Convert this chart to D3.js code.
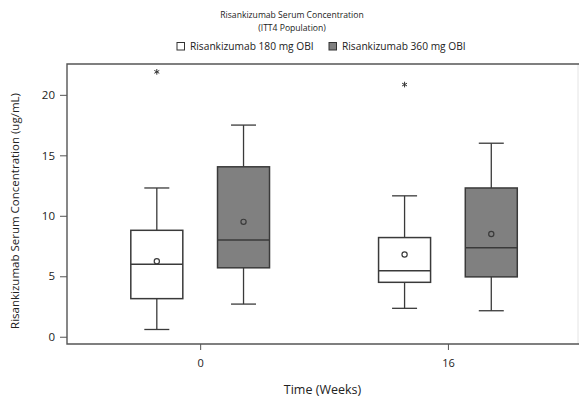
<!DOCTYPE html>
<html>
<head>
<meta charset="utf-8">
<script src="https://cdn.jsdelivr.net/npm/d3@7"></script>
<style>
  body { margin: 0; background: #fff; }
  text { font-family: "Open Sans", sans-serif; fill: #222; }
</style>
</head>
<body>
<div id="chart"></div>
<script>
const weeks = [0, 16];
const groups = ['Risankizumab 180 mg OBI', 'Risankizumab 360 mg OBI'];
const yTicks = [0, 5, 10, 15, 20];

// box stats per week, index order matches groups
const lowWhisker = [[0.6, 2.7], [2.35, 2.15]];
const q1 = [[3.15, 5.7], [4.5, 4.95]];
const median = [[6.0, 8.0], [5.45, 7.35]];
const q3 = [[8.8, 14.05], [8.2, 12.3]];
const highWhisker = [[12.3, 17.5], [11.65, 16.0]];
const means = [[6.25, 9.5], [6.8, 8.5]];
const outliers = [[[21.9], []], [[20.85], []]];

const fills = ['#ffffff', '#808080'];

const W = 579, H = 398;
const margin = { top: 64, right: 1, bottom: 54, left: 67 };
const width = W - margin.left - margin.right;
const height = H - margin.top - margin.bottom;

const svg = d3.select('#chart')
  .append('svg')
  .attr('width', W)
  .attr('height', H);

const g = svg.append('g')
  .attr('transform', `translate(${margin.left},${margin.top})`);

const x = d3.scaleLinear().domain([-8.6, 24.4]).range([0, width]);
const y = d3.scaleLinear().domain([-0.6, 22.55]).range([height, 0]);

const offset = 2.8;   // weeks each box sits off the tick
const boxW = 52;
const capW = 25;

// frame: right side is barely visible in the original
g.append('line')
  .attr('x1', width).attr('x2', width).attr('y1', 0).attr('y2', height)
  .attr('stroke', '#e4e4e4');
g.append('path')
  .attr('d', `M${width + 2},0H0V${height}H${width + 2}`)
  .attr('fill', 'none')
  .attr('stroke', '#555')
  .attr('stroke-width', 1.4);

const yAxis = g.append('g')
  .call(d3.axisLeft(y).tickValues(yTicks).tickSize(7).tickPadding(5));
yAxis.select('.domain').remove();
yAxis.selectAll('line').attr('stroke', '#555');
yAxis.selectAll('text').style('font-size', '11.5px').attr('fill', '#222');

const xAxis = g.append('g')
  .attr('transform', `translate(0,${height})`)
  .call(d3.axisBottom(x).tickValues(weeks).tickFormat(d3.format('d')).tickSize(6).tickPadding(9));
xAxis.select('.domain').remove();
xAxis.selectAll('line').attr('stroke', '#555');
xAxis.selectAll('text').style('font-size', '11px').attr('fill', '#222');

weeks.forEach((wk, wi) => {
  groups.forEach((grp, gi) => {
    const cx = x(wk + (gi === 0 ? -offset : offset));
    const stroke = '#3a3a3a';

    // whiskers
    g.append('line')
      .attr('x1', cx).attr('x2', cx)
      .attr('y1', y(highWhisker[wi][gi])).attr('y2', y(q3[wi][gi]))
      .attr('stroke', stroke).attr('stroke-width', 1.3);
    g.append('line')
      .attr('x1', cx).attr('x2', cx)
      .attr('y1', y(q1[wi][gi])).attr('y2', y(lowWhisker[wi][gi]))
      .attr('stroke', stroke).attr('stroke-width', 1.3);
    [highWhisker[wi][gi], lowWhisker[wi][gi]].forEach(v => {
      g.append('line')
        .attr('x1', cx - capW / 2).attr('x2', cx + capW / 2)
        .attr('y1', y(v)).attr('y2', y(v))
        .attr('stroke', stroke).attr('stroke-width', 1.3);
    });

    // box
    g.append('rect')
      .attr('x', cx - boxW / 2)
      .attr('y', y(q3[wi][gi]))
      .attr('width', boxW)
      .attr('height', y(q1[wi][gi]) - y(q3[wi][gi]))
      .attr('fill', fills[gi])
      .attr('stroke', stroke)
      .attr('stroke-width', 1.5);

    g.append('line')
      .attr('x1', cx - boxW / 2).attr('x2', cx + boxW / 2)
      .attr('y1', y(median[wi][gi])).attr('y2', y(median[wi][gi]))
      .attr('stroke', stroke).attr('stroke-width', 1.5);

    g.append('circle')
      .attr('cx', cx).attr('cy', y(means[wi][gi]))
      .attr('r', 2.6)
      .attr('fill', fills[gi])
      .attr('stroke', stroke)
      .attr('stroke-width', 1.2);

    outliers[wi][gi].forEach(v => {
      g.append('path')
        .attr('transform', `translate(${cx},${y(v)})`)
        .attr('d', d3.symbol(d3.symbolAsterisk, 22)())
        .attr('fill', 'none')
        .attr('stroke', '#333')
        .attr('stroke-width', 1);
    });
  });
});

// title
svg.append('text')
  .attr('x', 292).attr('y', 18)
  .attr('text-anchor', 'middle')
  .style('font-size', '8.6px')
  .text('Risankizumab Serum Concentration');
svg.append('text')
  .attr('x', 292).attr('y', 31)
  .attr('text-anchor', 'middle')
  .style('font-size', '8.6px')
  .text('(ITT4 Population)');

// legend
const legendX = [177, 329];
groups.forEach((grp, gi) => {
  svg.append('rect')
    .attr('x', legendX[gi]).attr('y', 42.5)
    .attr('width', 7.5).attr('height', 7.5)
    .attr('fill', fills[gi])
    .attr('stroke', '#333')
    .attr('stroke-width', 1);
  svg.append('text')
    .attr('x', legendX[gi] + 13).attr('y', 50)
    .style('font-size', '10.2px')
    .text(grp);
});

// axis labels
svg.append('text')
  .attr('transform', `translate(19,211) rotate(-90)`)
  .attr('text-anchor', 'middle')
  .style('font-size', '11.5px')
  .text('Risankizumab Serum Concentration (ug/mL)');

svg.append('text')
  .attr('x', margin.left + width / 2).attr('y', 394)
  .attr('text-anchor', 'middle')
  .style('font-size', '12.5px')
  .text('Time (Weeks)');
</script>
</body>
</html>
